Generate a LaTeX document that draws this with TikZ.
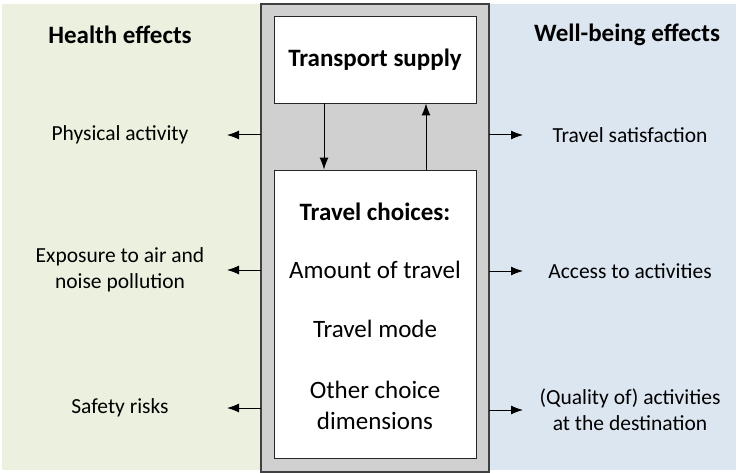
\documentclass[tikz,border=0pt]{standalone}
\usepackage{fontspec}
\setmainfont{Carlito}
\usetikzlibrary{arrows.meta}

\definecolor{healthgreen}{HTML}{EBF1DE}
\definecolor{wellblue}{HTML}{DCE6F0}
\definecolor{boxgrey}{HTML}{D0D0D0}

\tikzset{
    inbox/.style={draw=black!85, fill=white, line width=0.9pt},
    heading/.style={font=\fontsize{25}{30}\selectfont\bfseries},
    choice/.style={font=\fontsize{25}{31}\selectfont, align=center},
    effect/.style={font=\fontsize{21.5}{26}\selectfont, align=center},
    link/.style={-{Latex[length=12pt,width=9pt]}, line width=1pt},
}

\begin{document}
\begin{tikzpicture}[x=1pt, y=-1pt]
            \useasboundingbox (0,0) rectangle (736,473);

            %% fonds des deux colonnes
            \fill [healthgreen] (2,4) rectangle (262,470);
            \fill [wellblue] (488,4) rectangle (736,470);
            \draw [fill=boxgrey, draw=black!75, line width=1.3pt] (261,4) rectangle (489,472);

            %% bloc central
            \node [inbox, minimum width=202pt, minimum height=87pt, heading] (supply) at (375,59.5) {Transport supply};
            \node [inbox, minimum width=202pt, minimum height=288pt] (choices) at (375,314) {};
            \node [heading] (title) at (375,212) {Travel choices:};
            \node [choice] (amount) at (375,270) {Amount of travel};
            \node [choice] (mode) at (375,329) {Travel mode};
            \node [choice] (other) at (375,405) {Other choice\\dimensions};

            \draw [link] (supply.south -| 324,0) -- (choices.north -| 324,0);
            \draw [link] (choices.north -| 426,0) -- (supply.south -| 426,0);

            %% effets sur la sante
            \node [heading] (health) at (120,35) {Health effects};
            \node [effect] (phys) at (120,135) {Physical activity};
            \node [effect] (expo) at (120,270) {Exposure to air and\\noise pollution};
            \node [effect] (safety) at (120,408) {Safety risks};

            \coordinate (hphys) at (227,135);
            \coordinate (hexpo) at (227,270);
            \coordinate (hsafety) at (227,408);
            \draw [link] (261,135) -- (hphys);
            \draw [link] (261,270) -- (hexpo);
            \draw [link] (261,408) -- (hsafety);

            %% effets sur le bien-etre
            \node [heading] (well) at (627,35) {Well-being effects};
            \node [effect] (satis) at (630,135) {Travel satisfaction};
            \node [effect] (access) at (630,271) {Access to activities};
            \node [effect] (quality) at (630,410) {(Quality of) activities\\at the destination};

            \coordinate (wsatis) at (523,135);
            \coordinate (waccess) at (523,271);
            \coordinate (wquality) at (523,410);
            \draw [link] (489,135) -- (wsatis);
            \draw [link] (489,271) -- (waccess);
            \draw [link] (489,410) -- (wquality);
        \end{tikzpicture}
\end{document}
